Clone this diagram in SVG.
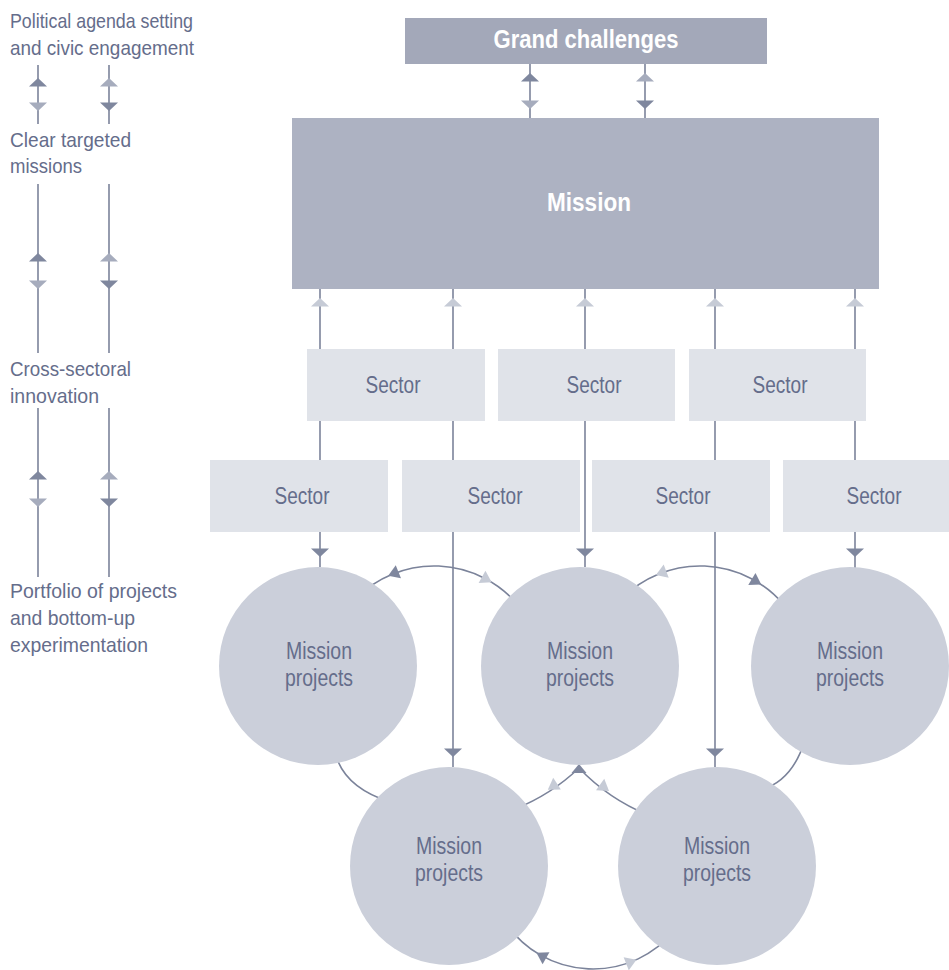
<svg xmlns="http://www.w3.org/2000/svg" xmlns:xlink="http://www.w3.org/1999/xlink" width="949" height="970" viewBox="0 0 949 970">
<defs>
<style>
.t{font-family:"Liberation Sans",Arial,sans-serif;fill:#656d8b}
.lbl{font-size:21px}
.nt{font-size:23px;text-anchor:middle}
.bt{font-family:"Liberation Sans",Arial,sans-serif;font-weight:bold;fill:#ffffff;text-anchor:middle}
.ln{stroke:#7b839a;stroke-width:1.6;fill:none}
.dk{fill:#7f879e}
.md{fill:#a6acbd}
.lt{fill:#c6cbd6}
.sec{fill:#e0e3e9}
.cir{fill:#cbcfda}
</style>
<polygon id="up" points="0,0 -9,8.5 9,8.5"/>
<polygon id="dn" points="0,0 -9,-8.5 9,-8.5"/>
<polygon id="ah" points="5,0 -6,-7 -6,7"/>
</defs>
<rect width="949" height="970" fill="#ffffff"/>

<g id="left-labels">
<text class="t lbl" x="10" y="28" textLength="183" lengthAdjust="spacingAndGlyphs">Political agenda setting</text>
<text class="t lbl" x="10" y="55" textLength="184" lengthAdjust="spacingAndGlyphs">and civic engagement</text>
<text class="t lbl" x="10" y="147" textLength="121" lengthAdjust="spacingAndGlyphs">Clear targeted</text>
<text class="t lbl" x="10" y="173" textLength="72" lengthAdjust="spacingAndGlyphs">missions</text>
<text class="t lbl" x="10" y="376" textLength="121" lengthAdjust="spacingAndGlyphs">Cross-sectoral</text>
<text class="t lbl" x="10" y="403" textLength="89" lengthAdjust="spacingAndGlyphs">innovation</text>
<text class="t lbl" x="10" y="598" textLength="167" lengthAdjust="spacingAndGlyphs">Portfolio of projects</text>
<text class="t lbl" x="10" y="625" textLength="125" lengthAdjust="spacingAndGlyphs">and bottom-up</text>
<text class="t lbl" x="10" y="652" textLength="138" lengthAdjust="spacingAndGlyphs">experimentation</text>
</g>

<g id="connectors">
<line class="ln" x1="38" y1="65" x2="38" y2="124"/>
<line class="ln" x1="109" y1="65" x2="109" y2="124"/>
<use href="#up" x="38" y="78" class="dk"/><use href="#dn" x="38" y="111" class="md"/>
<use href="#up" x="109" y="78" class="md"/><use href="#dn" x="109" y="111" class="dk"/>
<line class="ln" x1="38" y1="184" x2="38" y2="353"/>
<line class="ln" x1="109" y1="184" x2="109" y2="353"/>
<use href="#up" x="38" y="253" class="dk"/><use href="#dn" x="38" y="289" class="md"/>
<use href="#up" x="109" y="253" class="md"/><use href="#dn" x="109" y="289" class="dk"/>
<line class="ln" x1="38" y1="408" x2="38" y2="577"/>
<line class="ln" x1="109" y1="408" x2="109" y2="577"/>
<use href="#up" x="38" y="471" class="dk"/><use href="#dn" x="38" y="507" class="md"/>
<use href="#up" x="109" y="471" class="md"/><use href="#dn" x="109" y="507" class="dk"/>

<line class="ln" x1="530" y1="64" x2="530" y2="118"/>
<line class="ln" x1="645" y1="64" x2="645" y2="118"/>
<use href="#up" x="530" y="73" class="dk"/><use href="#dn" x="530" y="109" class="md"/>
<use href="#up" x="645" y="73" class="md"/><use href="#dn" x="645" y="109" class="dk"/>

<line class="ln" x1="320" y1="289" x2="320" y2="567"/>
<line class="ln" x1="453" y1="289" x2="453" y2="767"/>
<line class="ln" x1="585" y1="289" x2="585" y2="567"/>
<line class="ln" x1="715" y1="289" x2="715" y2="767"/>
<line class="ln" x1="855" y1="289" x2="855" y2="568"/>
<use href="#up" x="320" y="298" class="lt"/>
<use href="#up" x="453" y="298" class="lt"/>
<use href="#up" x="585" y="298" class="lt"/>
<use href="#up" x="715" y="298" class="lt"/>
<use href="#up" x="855" y="298" class="lt"/>
<use href="#dn" x="320" y="557" class="dk"/>
<use href="#dn" x="585" y="557" class="dk"/>
<use href="#dn" x="855" y="557" class="dk"/>
<use href="#dn" x="453" y="757" class="dk"/>
<use href="#dn" x="715" y="757" class="dk"/>

<path class="ln" d="M356.2,598.2 A110,110 0 0 1 518.3,605.3"/>
<path class="ln" d="M622.2,598.2 A110,110 0 0 1 784.3,605.3"/>
<path class="ln" d="M506.2,923.8 A106,106 0 0 0 674.2,931.1"/>
<path class="ln" d="M515,809 A200,200 0 0 0 579,768"/>
<path class="ln" d="M579,768 A200,200 0 0 0 648,815"/>
<path class="ln" d="M335,752 Q343,787 390,802"/>
<path class="ln" d="M805,740 Q792,782 760,790"/>
<use href="#ah" class="dk" transform="translate(392.8,574) rotate(158)"/>
<use href="#ah" class="lt" transform="translate(487.3,579.8) rotate(29)"/>
<use href="#ah" class="lt" transform="translate(660.6,573.3) rotate(159)"/>
<use href="#ah" class="dk" transform="translate(757,582) rotate(31)"/>
<use href="#ah" class="dk" transform="translate(540.8,955.3) rotate(209.5)"/>
<use href="#ah" class="lt" transform="translate(631.8,961.6) rotate(-21.5)"/>
<use href="#ah" class="lt" transform="translate(552,787) rotate(147)"/>
<use href="#ah" class="lt" transform="translate(605,788) rotate(36)"/>
<polygon class="dk" points="579,764 571.5,773 586.5,773"/>
</g>

<g id="grand-challenges">
<rect x="405" y="18" width="362" height="46" fill="#a3a8b9"/>
<text class="bt" x="586" y="48" font-size="26" textLength="185" lengthAdjust="spacingAndGlyphs">Grand challenges</text>
</g>

<g id="mission">
<rect x="292" y="118" width="587" height="171" fill="#adb2c2"/>
<text class="bt" x="589" y="211" font-size="25" textLength="84" lengthAdjust="spacingAndGlyphs">Mission</text>
</g>

<g id="sector-u1"><rect class="sec" x="307" y="349" width="178" height="72"/><text class="t nt" x="393" y="393" textLength="55" lengthAdjust="spacingAndGlyphs">Sector</text></g>
<g id="sector-u2"><rect class="sec" x="498" y="349" width="177" height="72"/><text class="t nt" x="594" y="393" textLength="55" lengthAdjust="spacingAndGlyphs">Sector</text></g>
<g id="sector-u3"><rect class="sec" x="689" y="349" width="177" height="72"/><text class="t nt" x="780" y="393" textLength="55" lengthAdjust="spacingAndGlyphs">Sector</text></g>
<g id="sector-l1"><rect class="sec" x="210" y="460" width="178" height="72"/><text class="t nt" x="302" y="504" textLength="55" lengthAdjust="spacingAndGlyphs">Sector</text></g>
<g id="sector-l2"><rect class="sec" x="402" y="460" width="178" height="72"/><text class="t nt" x="495" y="504" textLength="55" lengthAdjust="spacingAndGlyphs">Sector</text></g>
<g id="sector-l3"><rect class="sec" x="592" y="460" width="178" height="72"/><text class="t nt" x="683" y="504" textLength="55" lengthAdjust="spacingAndGlyphs">Sector</text></g>
<g id="sector-l4"><rect class="sec" x="783" y="460" width="166" height="72"/><text class="t nt" x="874" y="504" textLength="55" lengthAdjust="spacingAndGlyphs">Sector</text></g>

<g id="project-1"><circle class="cir" cx="318" cy="666" r="99"/><text class="t nt" x="319" y="659" textLength="66" lengthAdjust="spacingAndGlyphs">Mission</text><text class="t nt" x="319" y="686" textLength="68" lengthAdjust="spacingAndGlyphs">projects</text></g>
<g id="project-2"><circle class="cir" cx="580" cy="666" r="99"/><text class="t nt" x="580" y="659" textLength="66" lengthAdjust="spacingAndGlyphs">Mission</text><text class="t nt" x="580" y="686" textLength="68" lengthAdjust="spacingAndGlyphs">projects</text></g>
<g id="project-3"><circle class="cir" cx="850" cy="666" r="99"/><text class="t nt" x="850" y="659" textLength="66" lengthAdjust="spacingAndGlyphs">Mission</text><text class="t nt" x="850" y="686" textLength="68" lengthAdjust="spacingAndGlyphs">projects</text></g>
<g id="project-4"><circle class="cir" cx="449" cy="866" r="99"/><text class="t nt" x="449" y="854" textLength="66" lengthAdjust="spacingAndGlyphs">Mission</text><text class="t nt" x="449" y="881" textLength="68" lengthAdjust="spacingAndGlyphs">projects</text></g>
<g id="project-5"><circle class="cir" cx="717" cy="866" r="99"/><text class="t nt" x="717" y="854" textLength="66" lengthAdjust="spacingAndGlyphs">Mission</text><text class="t nt" x="717" y="881" textLength="68" lengthAdjust="spacingAndGlyphs">projects</text></g>
</svg>
